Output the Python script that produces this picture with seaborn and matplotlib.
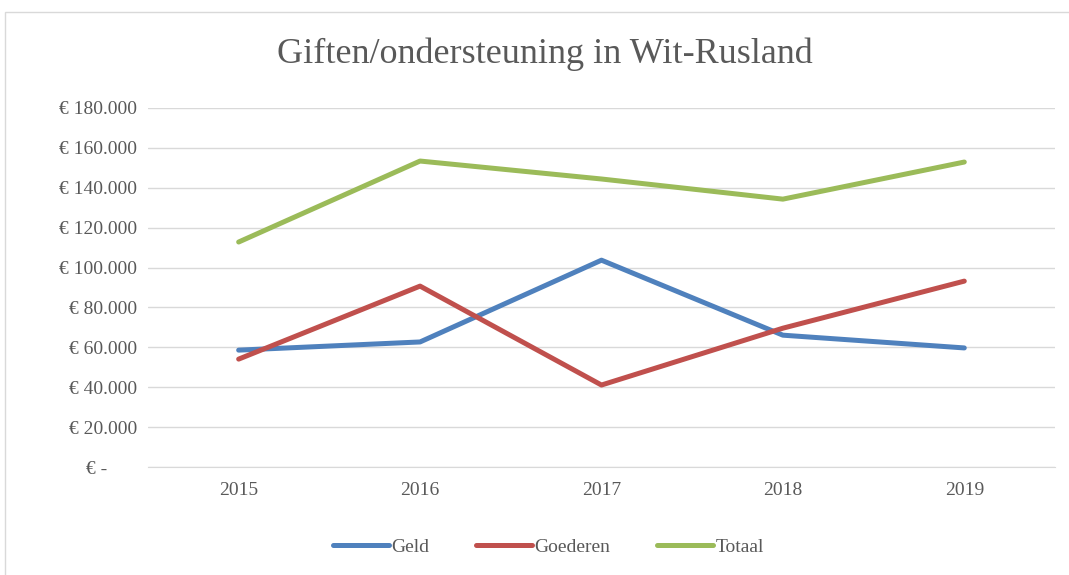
import pandas as pd
import numpy as np
import seaborn as sns
import matplotlib.pyplot as plt
from matplotlib.patches import Rectangle

# data
years = ["2015", "2016", "2017", "2018", "2019"]
geld = [58600, 62700, 103700, 66100, 59700]
goederen = [54100, 90700, 41100, 69600, 93200]
totaal = [112800, 153400, 144400, 134300, 152900]

series_names = ["Geld", "Goederen", "Totaal"]
colors = ["#4F81BD", "#C0504D", "#9BBB59"]
yticks = [0, 20000, 40000, 60000, 80000, 100000, 120000, 140000, 160000, 180000]

df = pd.DataFrame({"Jaar": years * 3,
                   "Bedrag": geld + goederen + totaal,
                   "Soort": np.repeat(series_names, len(years))})

sns.set_style("white")
plt.rcParams["font.family"] = ["Liberation Serif", "DejaVu Serif"]

fig = plt.figure(figsize=(10.69, 5.75), dpi=100)
ax = fig.add_axes([0.1384, 0.1878, 0.8485, 0.6244])

sns.lineplot(data=df, x="Jaar", y="Bedrag", hue="Soort", palette=colors,
             linewidth=3.6, ax=ax, legend=True, sort=False)

ax.set_xlim(-0.5, 4.5)
ax.set_ylim(0, 180000)
ax.set_yticks(yticks)

def euro(v):
    if v == 0:
        return "€ -      "
    return "€ " + f"{int(v):,}".replace(",", ".")

ax.set_yticklabels([euro(v) for v in yticks])
ax.grid(axis="y", color="#d9d9d9", linewidth=1)
ax.set_axisbelow(True)
for s in ["top", "right", "left"]:
    ax.spines[s].set_visible(False)
ax.spines["bottom"].set_color("#d9d9d9")
ax.tick_params(axis="y", length=0, pad=8, labelsize=14, labelcolor="#595959")
ax.tick_params(axis="x", length=0, pad=11, labelsize=14, labelcolor="#595959")
ax.set_xlabel("")
ax.set_ylabel("")

fig.text(0.51, 0.905, "Giften/ondersteuning in Wit-Rusland", ha="center", va="center",
         fontsize=26, color="#595959")

handles, labels = ax.get_legend_handles_labels()
ax.legend(handles, labels, loc="center", bbox_to_anchor=(0.513, 0.0485),
          bbox_transform=fig.transFigure, ncol=3, frameon=False, fontsize=14,
          handlelength=2.9, handletextpad=0.1, columnspacing=2.4,
          labelcolor="#595959")

fig.add_artist(Rectangle((5 / 1069, -0.01), 1.0, 1 - 12 / 575 + 0.01,
                         transform=fig.transFigure, fill=False,
                         edgecolor="#d9d9d9", linewidth=1))

fig.savefig("out.png", dpi=100)
